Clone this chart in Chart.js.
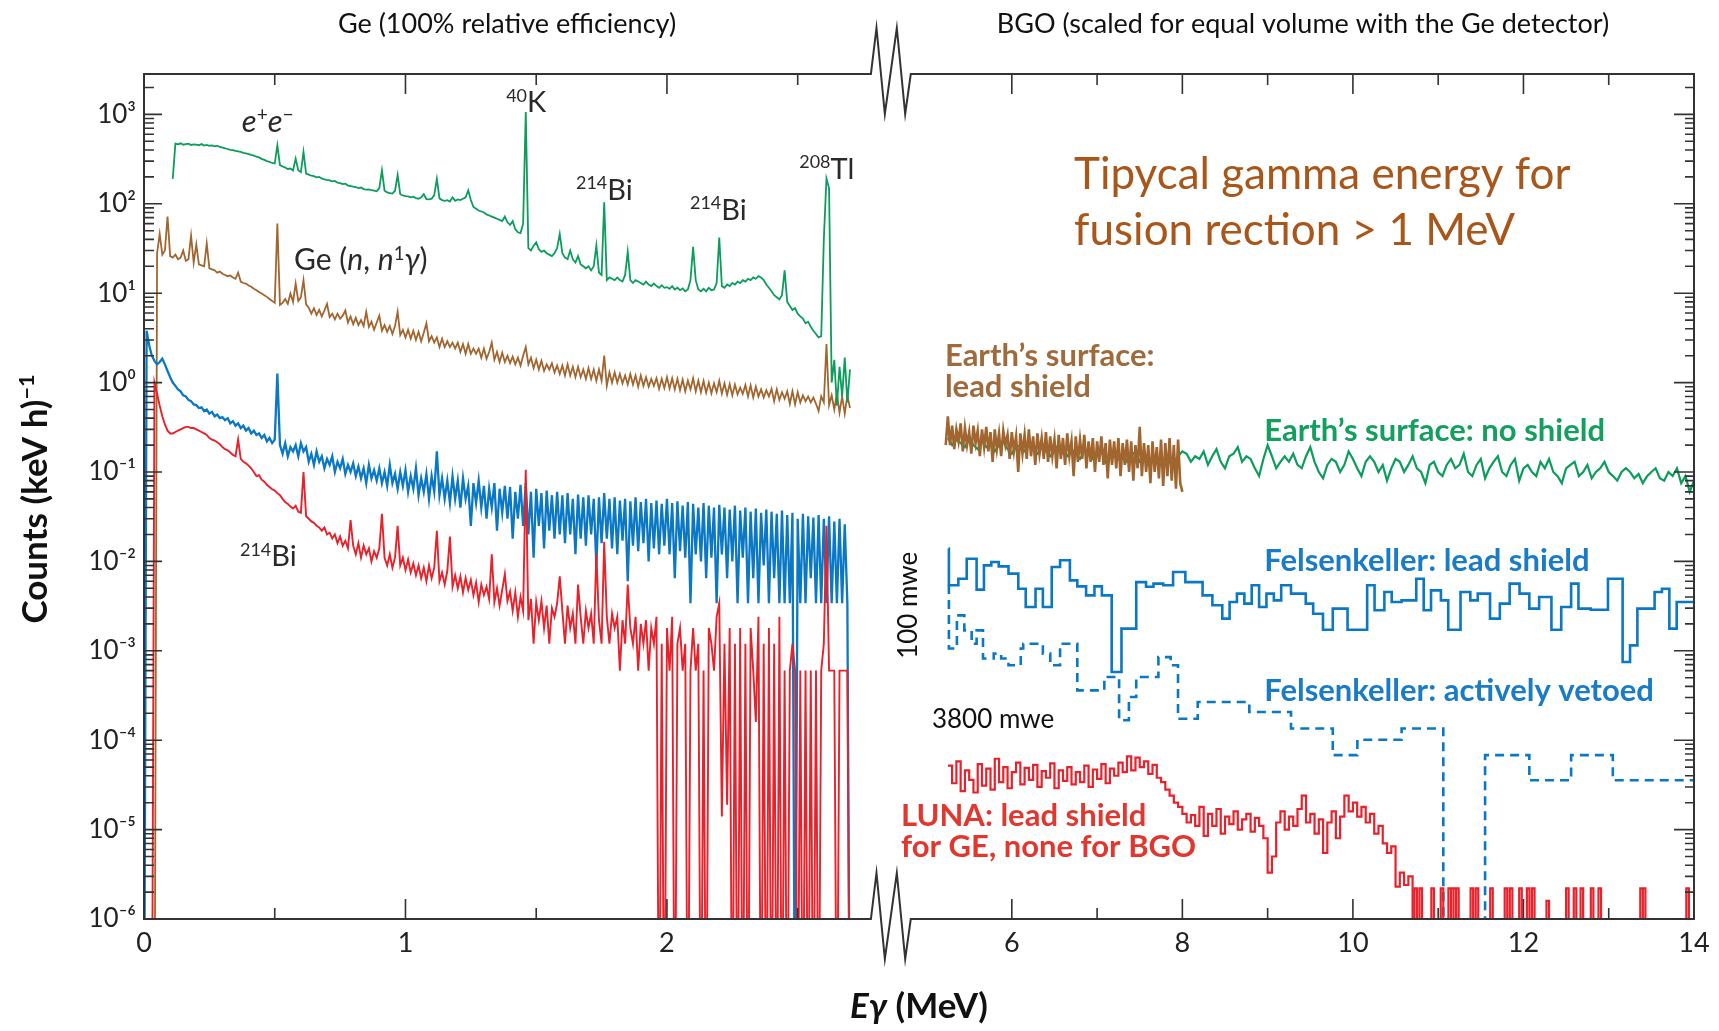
<!DOCTYPE html>
<html>
<head>
<meta charset="utf-8">
<title>Background spectra: Ge and BGO detectors</title>
<script src="https://cdn.jsdelivr.net/npm/chart.js@4.4.1/dist/chart.umd.min.js"></script>
<style>
  html, body { margin: 0; padding: 0; background: #fff; }
  #wrap { position: relative; width: 1719px; height: 1031px; }
</style>
</head>
<body>
<div id="wrap"><canvas id="chart"></canvas></div>
<script>
// Ge spectra: 10 keV channels, 0.00 .. 2.70 MeV, counts (keV h)^-1 (0 = empty channel)
const geStart = 0, geStep = 0.01;

const geSurfNoShield = [
  null, null, null, null, null, null, null, null, null, null,
  null, 190, 470, 462, 475, 458, 466, 470, 455, 463,
  460, 452, 465, 448, 455, 446, 450, 440, 446, 432,
  425, 418, 410, 402, 398, 390, 386, 380, 372, 366,
  360, 352, 345, 336, 330, 318, 310, 300, 295, 286,
  282, 450, 270, 262, 255, 245, 248, 236, 320, 238,
  226, 380, 218, 212, 206, 204, 198, 200, 192, 188,
  185, 183, 178, 180, 172, 170, 166, 168, 160, 158,
  156, 154, 150, 152, 146, 144, 145, 142, 140, 138,
  150, 237, 140, 134, 132, 130, 140, 210, 128, 124,
  122, 121, 118, 120, 116, 114, 118, 128, 113, 112,
  114, 125, 190, 115, 110, 108, 110, 106, 118, 108,
  112, 110, 114, 118, 141, 110, 92, 88, 84, 82,
  80, 76, 74, 72, 70, 68, 66, 64, 72, 62,
  58, 64, 52, 48, 47, 60, 1060, 32, 30, 34,
  37, 31, 29, 30, 28, 27, 26, 28, 32, 46,
  28, 25, 24, 30, 24, 22, 26, 21, 20, 19,
  20, 18, 20, 34, 17, 16, 104, 14, 15, 14.5,
  14, 15, 14, 13.5, 16, 29, 14, 13, 14, 13.5,
  13, 12.5, 13.5, 12.5, 12, 12.8, 12, 11.5, 12.3, 11.5,
  11.7, 11.2, 12, 11, 11.5, 10.8, 11.3, 10.5, 11, 14,
  33, 14, 11, 10.5, 11.2, 10.5, 11.5, 10.8, 11, 13,
  42, 12, 11.5, 12.5, 12, 13, 12.5, 13.5, 13, 14,
  13.5, 14.5, 14, 15, 14.5, 15.5, 15, 14, 12.5, 11.5,
  10.5, 9.5, 9, 8.5, 9.5, 18, 8, 7.2, 6.5, 6.8,
  5.9, 5.5, 5.2, 4.6, 4.8, 4.2, 3.8, 3.5, 3.2, 3.3,
  40, 192, 150, 1.0, 1.8, 0.55, 1.5, 0.7, 1.9, 0.6,
  1.4
];

const geSurfLead = [
  0, 0, 0, 0, 0, 28, 46, 27, 30, 72,
  26, 25, 27, 24, 25, 30, 23, 24, 44, 22,
  35, 21, 20.5, 20, 36, 19, 18.5, 18, 17, 17.5,
  16.5, 16, 15.5, 15.8, 15, 14.5, 17, 13.5, 13, 12.8,
  12.2, 11.8, 11.2, 10.8, 10.3, 9.9, 9.5, 9.1, 8.6, 8.2,
  7.8, 60, 7.4, 7.8, 8.6, 7.6, 9.9, 8, 12.8, 8.2,
  9, 14, 7.5, 6.9, 5.9, 6.8, 5.7, 6.5, 5.5, 6.4,
  7.6, 5.4, 5.9, 5.1, 5.9, 5.2, 5.6, 6.4, 4.7, 5.5,
  4.5, 5.3, 4.4, 5.0, 4.3, 6.2, 4.2, 4.8, 3.9, 4.7,
  5.6, 3.8, 4.4, 3.7, 4.3, 3.5, 4.3, 6.2, 3.4, 3.9,
  3.2, 3.9, 3.1, 3.8, 3.0, 3.7, 2.9, 3.6, 4.6, 2.9,
  3.3, 2.8, 3.2, 2.5, 3.1, 2.5, 2.9, 2.5, 2.8, 2.4,
  2.8, 2.2, 2.7, 2.1, 2.7, 2.1, 2.4, 2.1, 2.4, 1.9,
  2.4, 1.85, 2.2, 2.8, 1.8, 2.2, 1.7, 2.15, 1.7, 2.0,
  1.65, 1.95, 1.6, 1.9, 1.55, 2.0, 2.5, 1.6, 1.9, 1.45,
  1.8, 1.4, 1.75, 1.35, 1.6, 1.4, 1.65, 1.3, 1.55, 1.25,
  1.55, 1.2, 1.6, 1.2, 1.5, 1.15, 1.5, 1.15, 1.4, 1.1,
  1.45, 1.1, 1.4, 1.05, 1.4, 1.05, 2.0, 0.92, 1.3, 1.0,
  1.3, 1.0, 1.25, 0.98, 1.2, 0.95, 1.25, 0.95, 1.2, 0.9,
  1.2, 0.92, 1.15, 0.9, 1.1, 0.92, 1.12, 0.85, 1.1, 0.87,
  1.15, 0.86, 1.12, 0.84, 1.1, 0.82, 1.08, 0.8, 1.05, 0.84,
  1.12, 0.8, 1.05, 0.78, 1.04, 0.77, 1.0, 0.76, 0.98, 0.78,
  1.05, 0.75, 0.98, 0.73, 0.96, 0.72, 0.95, 0.74, 0.88, 0.75,
  0.94, 0.7, 0.93, 0.68, 0.9, 0.7, 0.84, 0.68, 0.82, 0.7,
  0.85, 0.62, 0.84, 0.64, 0.78, 0.66, 0.8, 0.58, 0.8, 0.57,
  0.78, 0.6, 0.72, 0.62, 0.7, 0.6, 0.68, 0.58, 0.48, 0.7,
  0.6, 2.7, 0.56, 0.72, 0.5, 0.75, 0.46, 0.7, 0.45, 0.72,
  0.52
];

const geFelsLead = [
  0, 3.8, 2.6, 2.0, 1.75, 1.6, 1.7, 1.85, 1.6, 1.35,
  1.15, 1.0, 0.92, 0.84, 0.8, 0.72, 0.7, 0.64, 0.62, 0.57,
  0.56, 0.52, 0.53, 0.48, 0.5, 0.45, 0.47, 0.42, 0.44, 0.4,
  0.41, 0.38, 0.4, 0.35, 0.37, 0.33, 0.35, 0.31, 0.33, 0.29,
  0.31, 0.27, 0.29, 0.26, 0.27, 0.24, 0.26, 0.22, 0.24, 0.21,
  0.23, 1.26, 0.2, 0.16, 0.21, 0.15, 0.19, 0.17, 0.2, 0.15,
  0.21, 0.17, 0.19, 0.13, 0.16, 0.12, 0.17, 0.13, 0.15, 0.11,
  0.14, 0.12, 0.15, 0.1, 0.13, 0.11, 0.14, 0.095, 0.12, 0.1,
  0.125, 0.09, 0.115, 0.085, 0.11, 0.075, 0.12, 0.085, 0.105, 0.08,
  0.11, 0.075, 0.1, 0.07, 0.12, 0.075, 0.095, 0.065, 0.1, 0.07,
  0.105, 0.06, 0.09, 0.065, 0.11, 0.055, 0.085, 0.06, 0.095, 0.05,
  0.09, 0.06, 0.17, 0.055, 0.085, 0.05, 0.08, 0.045, 0.09, 0.05,
  0.08, 0.04, 0.085, 0.05, 0.07, 0.025, 0.075, 0.045, 0.08, 0.04,
  0.07, 0.03, 0.065, 0.04, 0.075, 0.022, 0.065, 0.035, 0.07, 0.03,
  0.068, 0.018, 0.06, 0.03, 0.072, 0.025, 0.075, 0.02, 0.06, 0.011,
  0.065, 0.025, 0.058, 0.014, 0.062, 0.022, 0.055, 0.018, 0.06, 0.02,
  0.055, 0.016, 0.058, 0.02, 0.05, 0.012, 0.056, 0.018, 0.052, 0.015,
  0.055, 0.02, 0.05, 0.009, 0.052, 0.016, 0.058, 0.018, 0.05, 0.014,
  0.052, 0.012, 0.048, 0.017, 0.05, 0.006, 0.047, 0.015, 0.052, 0.013,
  0.046, 0.016, 0.05, 0.01, 0.045, 0.014, 0.048, 0.012, 0.044, 0.015,
  0.05, 0.012, 0.045, 0.0065, 0.047, 0.013, 0.042, 0.011, 0.046, 0.0034,
  0.044, 0.012, 0.04, 0.01, 0.045, 0.0065, 0.042, 0.011, 0.04, 0.0034,
  0.043, 0.012, 0.04, 0.0065, 0.038, 0.01, 0.042, 0.0034, 0.037, 0.011,
  0.04, 0.0034, 0.036, 0.0065, 0.039, 0.0034, 0.035, 0.009, 0.038, 0.0034,
  0.036, 0.0065, 0.034, 0.0034, 0.037, 0.0034, 0.033, 0.0034, 0.035, 0,
  0.03, 0.0034, 0.034, 0.0034, 0.032, 0.0065, 0.031, 0.0034, 0.033, 0.0034,
  0.03, 0.0034, 0.032, 0.0034, 0.028, 0.0034, 0.03, 0.0034, 0.026, 0.0034,
  0
];

const geLunaLead = [
  0, 0, 0, 0, 1.0, 0.75, 0.55, 0.42, 0.34, 0.29,
  0.27, 0.27, 0.28, 0.29, 0.3, 0.31, 0.32, 0.32, 0.31, 0.31,
  0.3, 0.29, 0.28, 0.27, 0.26, 0.24, 0.23, 0.225, 0.215, 0.205,
  0.19, 0.18, 0.175, 0.165, 0.155, 0.15, 0.23, 0.14, 0.13, 0.125,
  0.118, 0.11, 0.1, 0.09, 0.092, 0.082, 0.078, 0.072, 0.068, 0.064,
  0.062, 0.058, 0.055, 0.05, 0.046, 0.044, 0.041, 0.039, 0.042, 0.036,
  0.035, 0.1, 0.032, 0.03, 0.028, 0.027, 0.025, 0.024, 0.022, 0.024,
  0.02, 0.021, 0.018, 0.02, 0.016, 0.019, 0.015, 0.017, 0.014, 0.029,
  0.015, 0.012, 0.016, 0.011, 0.015, 0.012, 0.014, 0.01, 0.013, 0.011,
  0.014, 0.034, 0.011, 0.009, 0.012, 0.0085, 0.011, 0.025, 0.009, 0.011,
  0.008, 0.0105, 0.0075, 0.0095, 0.007, 0.009, 0.0065, 0.0085, 0.006, 0.009,
  0.0065, 0.0085, 0.022, 0.006, 0.0075, 0.0055, 0.0078, 0.019, 0.0052, 0.007,
  0.005, 0.0068, 0.0045, 0.0065, 0.0048, 0.0062, 0.0042, 0.0058, 0.0035, 0.0055,
  0.0042, 0.0052, 0.0038, 0.012, 0.0035, 0.005, 0.0032, 0.0048, 0.0072, 0.0036,
  0.0046, 0.0028, 0.0045, 0.0024, 0.004, 0.0028, 0.106, 0.0022, 0.0038, 0.0012,
  0.0035, 0.0022, 0.0036, 0.0018, 0.0032, 0.0012, 0.003, 0.0024, 0.0034, 0.0068,
  0.0028, 0.0012, 0.0032, 0.0018, 0.0026, 0.0012, 0.0055, 0.0024, 0.0012, 0.0028,
  0.0018, 0.0026, 0.0012, 0.0122, 0.0022, 0.0012, 0.0166, 0.0024, 0.0012, 0.0026,
  0.0018, 0.0024, 0.0006, 0.0022, 0.0012, 0.0055, 0.0018, 0.0012, 0.0024, 0.0006,
  0.002, 0.0012, 0.0022, 0.0006, 0.0018, 0.0012, 0.0024, 0, 0.0012, 0,
  0.0018, 0.0006, 0.0024, 0, 0.0012, 0.0018, 0.0006, 0.0012, 0, 0.0006,
  0.0018, 0.0006, 0.0012, 0, 0.0006, 0, 0.0018, 0.0012, 0.0006, 0.0024,
  0.0034, 1.4e-5, 0.0012, 1.9e-5, 0.0018, 0, 0.0012, 0, 0.0018, 0,
  0.0012, 0, 0.0018, 0.0006, 1.6e-4, 0.0024, 0, 0.0012, 0, 0.0018,
  0, 0.0012, 0, 0.0024, 0, 0.0006, 0, 0.0006, 0.0012, 0.0006,
  0, 0.0006, 0, 0.0006, 0, 0.0006, 0, 0.0006, 0, 0.0006,
  0.0012, 0.025, 0.0006, 0.0006, 0.0006, 0, 0.0006, 0.0006, 0.0006, 0.0006,
  0
];

// BGO spectra (scaled to the Ge volume)
const bgoSurfStart = 5.25, bgoSurfStep = 0.05;
const bgoSurfNoShield = [
  0.24, 0.2, 0.23, 0.21, 0.19, 0.24, 0.2, 0.18, 0.22, 0.19,
  0.21, 0.17, 0.2, 0.22, 0.18, 0.16, 0.2, 0.19, 0.17, 0.2,
  0.18, 0.16, 0.19, 0.17, 0.15, 0.18, 0.2, 0.16, 0.15, 0.18,
  0.16, 0.14, 0.17, 0.18, 0.14, 0.15, 0.17, 0.13, 0.16, 0.15,
  0.14, 0.16, 0.13, 0.15, 0.17, 0.13, 0.14, 0.12, 0.15, 0.14,
  0.12, 0.14, 0.15, 0.13, 0.15, 0.17, 0.16, 0.13, 0.15, 0.14,
  0.17, 0.12, 0.15, 0.18, 0.13, 0.11, 0.15, 0.16, 0.19, 0.13,
  0.15, 0.14, 0.11, 0.09, 0.14, 0.2, 0.15, 0.11, 0.13, 0.15,
  0.13, 0.16, 0.12, 0.11, 0.15, 0.19, 0.13, 0.1, 0.085, 0.12,
  0.14, 0.13, 0.1, 0.12, 0.17, 0.14, 0.11, 0.09, 0.13, 0.15,
  0.13, 0.1, 0.12, 0.08, 0.11, 0.14, 0.13, 0.1, 0.12, 0.15,
  0.11, 0.1, 0.075, 0.12, 0.13, 0.1, 0.09, 0.12, 0.14, 0.11,
  0.12, 0.16, 0.1, 0.09, 0.12, 0.14, 0.085, 0.11, 0.13, 0.15,
  0.1, 0.09, 0.12, 0.14, 0.08, 0.11, 0.12, 0.1, 0.09, 0.13,
  0.11, 0.14, 0.1, 0.09, 0.075, 0.11, 0.12, 0.13, 0.09, 0.1,
  0.12, 0.085, 0.1, 0.11, 0.13, 0.1, 0.09, 0.08, 0.1, 0.11,
  0.1, 0.085, 0.095, 0.075, 0.09, 0.1, 0.11, 0.085, 0.08, 0.1,
  0.09, 0.11, 0.075, 0.09, 0.06, 0.08
];

const bgoLeadStart = 5.225, bgoLeadStep = 0.025;
const bgoSurfLead = [
  0.2, 0.42, 0.2, 0.33, 0.18, 0.3, 0.22, 0.35, 0.17, 0.31,
  0.2, 0.28, 0.16, 0.33, 0.21, 0.29, 0.15, 0.3, 0.19, 0.32,
  0.17, 0.28, 0.13, 0.3, 0.18, 0.27, 0.15, 0.29, 0.2, 0.26,
  0.14, 0.28, 0.17, 0.25, 0.1, 0.27, 0.16, 0.26, 0.14, 0.3,
  0.15, 0.25, 0.12, 0.27, 0.16, 0.24, 0.14, 0.28, 0.13, 0.25,
  0.15, 0.23, 0.11, 0.26, 0.14, 0.24, 0.12, 0.27, 0.15, 0.22,
  0.09, 0.25, 0.13, 0.23, 0.14, 0.26, 0.11, 0.22, 0.13, 0.24,
  0.1, 0.22, 0.13, 0.25, 0.12, 0.21, 0.085, 0.23, 0.12, 0.22,
  0.11, 0.24, 0.09, 0.21, 0.12, 0.23, 0.1, 0.22, 0.08, 0.2,
  0.11, 0.32, 0.09, 0.21, 0.1, 0.2, 0.075, 0.22, 0.1, 0.19,
  0.085, 0.23, 0.07, 0.21, 0.09, 0.24, 0.08, 0.2, 0.065, 0.23,
  0.075, 0.06
];

const bgoLunaStart = 5.25, bgoLunaStep = 0.05;
const bgoLunaNoShield = [
  5.2e-5, 3.3e-5, 5.8e-5, 2.7e-5, 4.6e-5, 3.6e-5, 2.6e-5, 5.4e-5, 3.1e-5, 4.8e-5,
  2.8e-5, 6.2e-5, 3.4e-5, 5.0e-5, 2.9e-5, 4.4e-5, 5.6e-5, 3.2e-5, 4.9e-5, 3.6e-5,
  5.3e-5, 3.0e-5, 4.5e-5, 3.8e-5, 5.5e-5, 2.9e-5, 4.6e-5, 3.5e-5, 5.0e-5, 3.2e-5,
  4.4e-5, 3.4e-5, 5.2e-5, 3.0e-5, 4.7e-5, 3.7e-5, 5.4e-5, 3.3e-5, 4.8e-5, 4.0e-5,
  5.6e-5, 4.4e-5, 6.6e-5, 4.6e-5, 6.4e-5, 5.0e-5, 5.8e-5, 4.2e-5, 5.3e-5, 3.8e-5,
  3.4e-5, 2.8e-5, 2.4e-5, 2.0e-5, 1.8e-5, 1.5e-5, 1.2e-5, 1.45e-5, 1.1e-5, 1.8e-5,
  8.5e-6, 1.5e-5, 1.1e-5, 1.7e-5, 9e-6, 1.4e-5, 1.15e-5, 1.6e-5, 1.0e-5, 1.3e-5,
  1.5e-5, 9.5e-6, 1.35e-5, 1.1e-5, 8e-6, 3.3e-6, 5e-6, 1.2e-5, 1.6e-5, 1.0e-5,
  1.4e-5, 1.1e-5, 1.7e-5, 2.4e-5, 1.2e-5, 1.5e-5, 9e-6, 1.3e-5, 5.5e-6, 1.2e-5,
  1.6e-5, 8e-6, 1.4e-5, 2.4e-5, 1.6e-5, 2.0e-5, 1.4e-5, 1.8e-5, 1.2e-5, 1.5e-5,
  9e-6, 1.1e-5, 7e-6, 5.5e-6, 6.5e-6, 2.3e-6, 3.3e-6, 2.4e-6, 3.0e-6, 0
];
// single-count bins of the LUNA BGO spectrum above 10.7 MeV
const bgoLunaCountE = [10.72, 10.78, 10.92, 11.03, 11.12, 11.15, 11.18, 11.21, 11.38, 11.44, 11.61, 11.78,
  11.84, 11.95, 12.04, 12.10, 12.27, 12.50, 12.59, 12.67, 12.79, 12.88, 13.37, 13.40, 13.91];
const bgoLunaCountV = [2.2e-6, 2.2e-6, 2.2e-6, 2.2e-6, 2.2e-6, 2.2e-6, 2.2e-6, 2.2e-6, 2.2e-6, 2.2e-6, 2.2e-6, 2.2e-6,
  2.2e-6, 2.2e-6, 2.2e-6, 2.2e-6, 1.6e-6, 2.2e-6, 2.2e-6, 2.2e-6, 2.2e-6, 2.2e-6, 2.2e-6, 2.2e-6, 2.2e-6];
const bgoLunaCountWidth = 0.03;

// Felsenkeller BGO histograms: bin edges (MeV) and contents
const felsLeadEdges = [5.258, 5.262, 5.373, 5.471, 5.587, 5.673, 5.759, 5.846, 5.961, 6.076, 6.163, 6.278, 6.364,
  6.468, 6.566, 6.681, 6.768, 6.871, 6.969, 7.056, 7.171, 7.286, 7.459, 7.574, 7.661, 7.776, 7.891, 8.035, 8.237,
  8.352, 8.468, 8.554, 8.640, 8.727, 8.813, 8.900, 8.986, 9.073, 9.159, 9.274, 9.447, 9.534, 9.649, 9.764, 9.937,
  10.167, 10.254, 10.369, 10.455, 10.571, 10.743, 10.830, 10.916, 11.032, 11.118, 11.262, 11.377, 11.464, 11.608,
  11.723, 11.838, 11.954, 12.069, 12.184, 12.328, 12.443, 12.559, 12.645, 12.789, 12.991, 13.163, 13.250, 13.336,
  13.538, 13.624, 13.711, 13.797, 14.0];
const felsLeadValues = [0.0139, 0.0054, 0.0064, 0.0107, 0.00483, 0.00903, 0.00984, 0.0088, 0.0073, 0.00495, 0.00309,
  0.00495, 0.00309, 0.00865, 0.01028, 0.00614, 0.00526, 0.00417, 0.00526, 0.00417, 0.00058, 0.00177, 0.00587, 0.0052,
  0.00564, 0.0054, 0.0076, 0.00587, 0.00417, 0.00323, 0.00229, 0.00352, 0.00436, 0.00337, 0.0054, 0.00309, 0.00436,
  0.00366, 0.0054, 0.00436, 0.00337, 0.0026, 0.00172, 0.00296, 0.00172, 0.0054, 0.00284, 0.00455, 0.00352, 0.00366,
  0.0064, 0.00284, 0.00474, 0.00366, 0.00172, 0.00455, 0.00366, 0.00436, 0.00229, 0.00337, 0.00564, 0.00436, 0.00296,
  0.004, 0.00172, 0.00309, 0.00564, 0.00296, 0.00288, 0.0064, 0.00075, 0.00115, 0.00296, 0.00455, 0.00495, 0.00177,
  0.00352];

const felsVetoEdges = [5.258, 5.262, 5.356, 5.443, 5.529, 5.587, 5.662, 5.788, 5.875, 5.961, 6.105, 6.134, 6.364,
  6.451, 6.566, 6.768, 7.085, 7.258, 7.373, 7.459, 7.719, 7.863, 7.949, 8.180, 8.785, 9.274, 9.764, 10.052, 10.571,
  11.060, 11.550, 12.069, 12.559, 13.048, 14.0];
const felsVetoValues = [0.0054, 0.00106, 0.00249, 0.00169, 0.0012, 0.00169, 0.00082, 0.00093, 0.00082, 0.00069,
  0.00106, 0.0012, 0.00093, 0.00069, 0.0012, 0.000361, 0.00051, 0.000167, 0.000304, 0.00051, 0.00085, 0.00069,
  0.000174, 0.000267, 0.000207, 0.000135, 6.8e-5, 1.01e-4, 1.35e-4, 0, 6.8e-5, 3.56e-5, 6.8e-5, 3.56e-5];

// axis ticks
const yDecades = [1e-6, 1e-5, 1e-4, 1e-3, 1e-2, 1e-1, 1, 10, 100, 1000];
const geMajorTicks = [0, 1, 2], geMinorTicks = [0.5, 1.5, 2.5];
const bgoMajorTicks = [6, 8, 10, 12, 14], bgoMinorTicks = [7, 9, 11, 13];

// broken energy axis: Ge part on the left, compressed BGO part on the right
const geAxisRange = [0, 2.78];
const bgoAxisRange = [4.815, 14];
const breakGap = 0.1525;
const bgoCompress = 0.32612;
const axisMax = geAxisRange[1] + breakGap + (bgoAxisRange[1] - bgoAxisRange[0]) * bgoCompress;
function toAxis(e, panel) {
  if (panel === 'ge') return e;
  return geAxisRange[1] + breakGap + (e - bgoAxisRange[0]) * bgoCompress;
}

const green = '#0c9c5c', brown = '#a1662f', blue = '#0a78c4', red = '#e8212b';
const axisColor = '#333';
const fam = "Lato, 'Noto Sans', 'DejaVu Sans', sans-serif";
const zeroFloor = 1e-8;

const pt = (e, v, panel) => ({ x: toAxis(e, panel), y: v === 0 ? zeroFloor : v });
function channels(start, step, values, panel) {
  return values.map((v, i) => pt(+(start + i * step).toFixed(4), v, panel));
}
function histogram(edges, values, panel) {
  const pts = values.map((v, i) => pt(edges[i], v, panel));
  pts.push(pt(edges[edges.length - 1], values[values.length - 1], panel));
  return pts;
}
function countBins(from, starts, values, width, panel) {
  const pts = [pt(from, 0, panel)];
  starts.forEach((e, i) => {
    pts.push(pt(e, values[i], panel));
    pts.push(pt(e + width, 0, panel));
  });
  return pts;
}
const ds = (label, data, color, width, extra) =>
  Object.assign({ label, data, borderColor: color, borderWidth: width, pointRadius: 0, fill: false, tension: 0 }, extra || {});

const sup = { '0': '⁰', '1': '¹', '2': '²', '3': '³', '4': '⁴', '5': '⁵', '6': '⁶', '7': '⁷', '8': '⁸', '9': '⁹', '-': '⁻' };
const supText = s => String(s).split('').map(c => sup[c] || c).join('');

// labels placed at data coordinates
const ink = '#2a2a2a';
const notes = [
  { panel: 'ge', e: 0.374, v: 634, size: 31, color: ink, parts: [{ t: 'e', i: 1 }, { t: '+', s: 1 }, { t: 'e', i: 1 }, { t: '−', s: 1 }] },
  { panel: 'ge', e: 1.385, v: 1065, size: 29, color: ink, parts: [{ t: '40', s: 1 }, { t: 'K' }] },
  { panel: 'ge', e: 1.652, v: 111, size: 29, color: ink, parts: [{ t: '214', s: 1 }, { t: 'Bi' }] },
  { panel: 'ge', e: 2.088, v: 66, size: 29, color: ink, parts: [{ t: '214', s: 1 }, { t: 'Bi' }] },
  { panel: 'ge', e: 2.506, v: 191, size: 29, color: ink, parts: [{ t: '208', s: 1 }, { t: 'Tl' }] },
  { panel: 'ge', e: 0.574, v: 18, size: 30, color: ink, parts: [{ t: 'Ge (' }, { t: 'n', i: 1 }, { t: ', ' }, { t: 'n', i: 1 }, { t: '1', s: 1 }, { t: 'γ', i: 1 }, { t: ')' }] },
  { panel: 'ge', e: 0.367, v: 0.0088, size: 29, color: ink, parts: [{ t: '214', s: 1 }, { t: 'Bi' }] },
  { panel: 'bgo', e: 6.73, v: 147, size: 44, color: '#a8561a', parts: [{ t: 'Tipycal gamma energy for' }] },
  { panel: 'bgo', e: 6.73, v: 34.7, size: 44, color: '#a8561a', parts: [{ t: 'fusion rection > 1 MeV' }] },
  { panel: 'bgo', e: 5.215, v: 1.53, size: 31, bold: 1, color: '#a06b3c', parts: [{ t: 'Earth’s surface:' }] },
  { panel: 'bgo', e: 5.215, v: 0.697, size: 31, bold: 1, color: '#a06b3c', parts: [{ t: 'lead shield' }] },
  { panel: 'bgo', e: 8.96, v: 0.225, size: 31, bold: 1, color: '#139f5e', parts: [{ t: 'Earth’s surface: no shield' }] },
  { panel: 'bgo', e: 8.96, v: 0.00782, size: 31, bold: 1, color: '#1a7cc6', parts: [{ t: 'Felsenkeller: lead shield' }] },
  { panel: 'bgo', e: 8.96, v: 2.72e-4, size: 31, bold: 1, color: '#1a7cc6', parts: [{ t: 'Felsenkeller: actively vetoed' }] },
  { panel: 'bgo', e: 4.889, v: 0.00323, size: 26, color: '#111', rotate: 1, parts: [{ t: '100 mwe' }] },
  { panel: 'bgo', e: 5.063, v: 1.36e-4, size: 26, color: '#111', parts: [{ t: '3800 mwe' }] },
  { panel: 'bgo', e: 4.70, v: 1.09e-5, size: 31, bold: 1, color: '#e2372f', parts: [{ t: 'LUNA: lead shield' }] },
  { panel: 'bgo', e: 4.70, v: 4.92e-6, size: 31, bold: 1, color: '#e2372f', parts: [{ t: 'for GE, none for BGO' }] }
];

function drawParts(ctx, x, y, parts, size, bold, color, align) {
  const items = parts.map(p => {
    const s = p.s ? size * 0.62 : size;
    const f = (p.i ? 'italic ' : '') + (bold ? 'bold ' : '') + s + 'px ' + fam;
    ctx.font = f;
    return { t: p.t, f, w: ctx.measureText(p.t).width, dy: p.s ? -size * 0.36 : 0 };
  });
  const total = items.reduce((a, b) => a + b.w, 0);
  let cx = align === 'center' ? x - total / 2 : x;
  ctx.fillStyle = color;
  ctx.textAlign = 'left';
  ctx.textBaseline = 'alphabetic';
  items.forEach(it => { ctx.font = it.f; ctx.fillText(it.t, cx, y + it.dy); cx += it.w; });
}

const brokenFrame = {
  id: 'brokenFrame',
  afterDraw(chart) {
    const { ctx, chartArea: a, scales: { x, y } } = chart;
    const px = (e, p) => x.getPixelForValue(toAxis(e, p));
    const b0 = px(geAxisRange[1], 'ge'), b1 = px(bgoAxisRange[0], 'bgo');
    const zig = [[0.14, -46], [0.35, 40], [0.65, -46], [0.86, 40]];
    ctx.save();
    ctx.strokeStyle = axisColor;
    ctx.lineWidth = 2;
    ctx.lineJoin = 'miter';
    ctx.beginPath();
    ctx.moveTo(a.left, a.bottom);
    ctx.lineTo(a.left, a.top);
    ctx.lineTo(b0, a.top);
    zig.forEach(([f, d]) => ctx.lineTo(b0 + f * (b1 - b0), a.top + d));
    ctx.lineTo(b1, a.top);
    ctx.lineTo(a.right, a.top);
    ctx.lineTo(a.right, a.bottom);
    ctx.lineTo(b1, a.bottom);
    zig.slice().reverse().forEach(([f, d]) => ctx.lineTo(b0 + f * (b1 - b0), a.bottom + d));
    ctx.lineTo(b0, a.bottom);
    ctx.closePath();
    ctx.stroke();

    // inward tick marks
    ctx.lineWidth = 1.6;
    ctx.beginPath();
    const xt = (X, len) => { ctx.moveTo(X, a.top); ctx.lineTo(X, a.top + len); ctx.moveTo(X, a.bottom); ctx.lineTo(X, a.bottom - len); };
    geMajorTicks.forEach(e => xt(px(e, 'ge'), 20));
    geMinorTicks.forEach(e => xt(px(e, 'ge'), 11));
    bgoMajorTicks.forEach(e => xt(px(e, 'bgo'), 20));
    bgoMinorTicks.forEach(e => xt(px(e, 'bgo'), 11));
    const yt = (v, lenL, lenR) => {
      const Y = y.getPixelForValue(v);
      if (Y < a.top - 0.5 || Y > a.bottom + 0.5) return;
      ctx.moveTo(a.left, Y); ctx.lineTo(a.left + lenL, Y);
      ctx.moveTo(a.right, Y); ctx.lineTo(a.right - lenR, Y);
    };
    yDecades.forEach(d => {
      yt(d, 18, 20);
      for (let m = 2; m <= 9; m++) yt(d * m, 10, 9);
    });
    ctx.stroke();

    // panel titles
    ctx.fillStyle = '#111';
    ctx.font = '27px ' + fam;
    ctx.textAlign = 'center';
    ctx.textBaseline = 'alphabetic';
    ctx.fillText('Ge (100% relative efficiency)', 507, 33);
    ctx.fillText('BGO (scaled for equal volume with the Ge detector)', 1303, 33);

    // axis titles
    drawParts(ctx, 919, 1018, [{ t: 'E', i: 1 }, { t: 'γ', i: 1 }, { t: ' (MeV)' }], 35, true, '#111', 'center');
    ctx.save();
    ctx.translate(47, 499);
    ctx.rotate(-Math.PI / 2);
    drawParts(ctx, 0, 0, [{ t: 'Counts (keV h)' }, { t: '−1', s: 1 }], 35, true, '#111', 'center');
    ctx.restore();

    // in-plot labels
    notes.forEach(n => {
      const X = px(n.e, n.panel), Y = y.getPixelForValue(n.v);
      if (n.rotate) {
        ctx.save();
        ctx.translate(X, Y);
        ctx.rotate(-Math.PI / 2);
        drawParts(ctx, 0, 0, n.parts, n.size, n.bold, n.color, 'center');
        ctx.restore();
      } else {
        drawParts(ctx, X, Y, n.parts, n.size, n.bold, n.color, 'left');
      }
    });
    ctx.restore();
  }
};

const xTickMeV = geMajorTicks.map(e => ({ e, p: 'ge' })).concat(bgoMajorTicks.map(e => ({ e, p: 'bgo' })));

new Chart(document.getElementById('chart'), {
  type: 'line',
  data: {
    datasets: [
      ds('LUNA, Ge', channels(geStart, geStep, geLunaLead, 'ge'), red, 1.9),
      ds('LUNA, BGO', channels(bgoLunaStart, bgoLunaStep, bgoLunaNoShield, 'bgo'), red, 2.2, { stepped: 'before' }),
      ds('LUNA, BGO single counts', countBins(10.70, bgoLunaCountE, bgoLunaCountV, bgoLunaCountWidth, 'bgo'), red, 2.2, { stepped: 'before' }),
      ds('Felsenkeller, Ge', channels(geStart, geStep, geFelsLead, 'ge'), blue, 2.3),
      ds('Felsenkeller: lead shield, BGO', histogram(felsLeadEdges, felsLeadValues, 'bgo'), blue, 2.6, { stepped: 'before' }),
      ds('Felsenkeller: actively vetoed, BGO', histogram(felsVetoEdges, felsVetoValues, 'bgo'), blue, 2.6, { stepped: 'before', borderDash: [9, 6] }),
      ds('Earth surface no shield, Ge', channels(geStart, geStep, geSurfNoShield, 'ge'), green, 1.8),
      ds('Earth surface lead shield, Ge', channels(geStart, geStep, geSurfLead, 'ge'), brown, 1.8),
      ds('Earth surface lead shield, BGO', channels(bgoLeadStart, bgoLeadStep, bgoSurfLead, 'bgo'), brown, 2.6),
      ds('Earth surface no shield, BGO', channels(bgoSurfStart, bgoSurfStep, bgoSurfNoShield, 'bgo'), green, 2.2)
    ]
  },
  options: {
    responsive: true,
    maintainAspectRatio: false,
    animation: false,
    devicePixelRatio: 1,
    layout: { padding: { top: 74, right: 25, bottom: 0, left: 0 } },
    plugins: { legend: { display: false }, tooltip: { enabled: false } },
    scales: {
      x: {
        type: 'linear',
        min: 0,
        max: axisMax,
        grid: { display: false, drawTicks: false },
        border: { display: false },
        afterBuildTicks: s => { s.ticks = xTickMeV.map(t => ({ value: toAxis(t.e, t.p) })); },
        afterFit: s => { s.height = 112; },
        ticks: {
          autoSkip: false, maxRotation: 0, padding: 8, color: '#222',
          font: { family: fam, size: 27 },
          callback: (v, i) => String(xTickMeV[i].e)
        }
      },
      y: {
        type: 'logarithmic',
        min: 1e-6,
        max: 2830,
        grid: { display: false, drawTicks: false },
        border: { display: false },
        afterBuildTicks: s => { s.ticks = yDecades.map(v => ({ value: v })); },
        afterFit: s => { s.width = 144; },
        ticks: {
          autoSkip: false, padding: 8, color: '#222',
          font: { family: fam, size: 26 },
          callback: v => '10' + supText(Math.round(Math.log10(v)))
        }
      }
    }
  },
  plugins: [brokenFrame]
});
</script>
</body>
</html>
